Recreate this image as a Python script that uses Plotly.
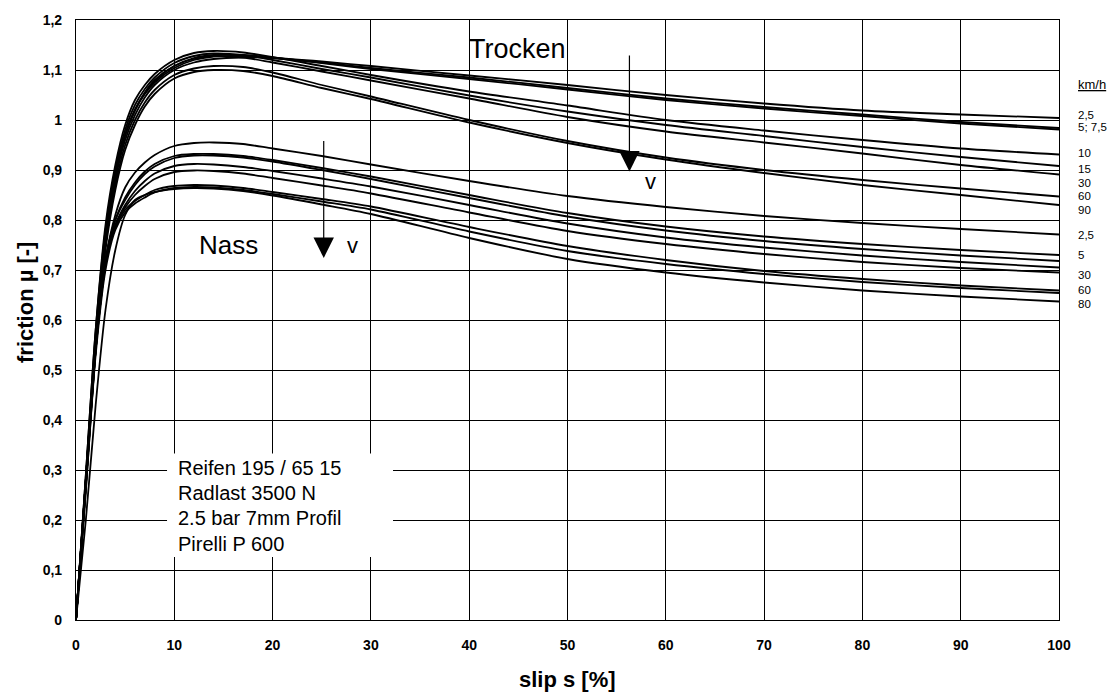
import plotly.graph_objects as go

# ---------------- data ----------------
slip = [0, 1, 2, 3, 4, 5, 6, 7, 8, 10, 12, 14, 17, 20, 25, 30, 40, 50, 60, 70, 80, 90, 100]

dry_names = ["Trocken 2,5", "Trocken 5", "Trocken 7,5", "Trocken 10",
             "Trocken 15", "Trocken 30", "Trocken 60", "Trocken 90"]
dry_2_5 = [0, 0.27, 0.54, 0.75, 0.88, 0.96, 1.01, 1.045, 1.07, 1.10, 1.115, 1.122, 1.125, 1.124, 1.117, 1.108, 1.089, 1.070, 1.050, 1.033, 1.019, 1.011, 1.004]
dry_5 = [0, 0.28, 0.56, 0.77, 0.89, 0.97, 1.02, 1.052, 1.075, 1.104, 1.12, 1.127, 1.128, 1.124, 1.115, 1.104, 1.085, 1.064, 1.043, 1.026, 1.011, 0.996, 0.984]
dry_7_5 = [0, 0.28, 0.56, 0.77, 0.89, 0.97, 1.02, 1.054, 1.078, 1.108, 1.124, 1.13, 1.13, 1.125, 1.114, 1.102, 1.082, 1.061, 1.040, 1.023, 1.008, 0.993, 0.981]
dry_10 = [0, 0.29, 0.58, 0.79, 0.91, 0.99, 1.04, 1.07, 1.092, 1.12, 1.134, 1.138, 1.135, 1.126, 1.108, 1.090, 1.057, 1.029, 1.000, 0.979, 0.960, 0.943, 0.931]
dry_15 = [0, 0.29, 0.58, 0.78, 0.90, 0.98, 1.03, 1.062, 1.085, 1.114, 1.128, 1.133, 1.130, 1.120, 1.102, 1.085, 1.049, 1.017, 0.990, 0.968, 0.946, 0.926, 0.908]
dry_30 = [0, 0.28, 0.57, 0.77, 0.89, 0.97, 1.02, 1.055, 1.08, 1.108, 1.122, 1.128, 1.125, 1.115, 1.097, 1.079, 1.043, 1.006, 0.977, 0.955, 0.933, 0.910, 0.891]
dry_60 = [0, 0.27, 0.55, 0.75, 0.87, 0.95, 1.00, 1.035, 1.06, 1.09, 1.103, 1.108, 1.106, 1.095, 1.070, 1.047, 1.000, 0.958, 0.925, 0.900, 0.880, 0.863, 0.847]
dry_90 = [0, 0.26, 0.54, 0.74, 0.86, 0.94, 0.99, 1.027, 1.052, 1.083, 1.096, 1.10, 1.098, 1.088, 1.064, 1.042, 0.995, 0.954, 0.921, 0.894, 0.870, 0.850, 0.830]

wet_names = ["Nass 2,5", "Nass 5", "Nass (b)", "Nass (c)",
             "Nass 30", "Nass 60", "Nass (d)", "Nass 80"]
wet_1 = [0, 0.28, 0.55, 0.72, 0.81, 0.865, 0.895, 0.915, 0.93, 0.948, 0.954, 0.955, 0.952, 0.943, 0.928, 0.911, 0.878, 0.848, 0.826, 0.808, 0.794, 0.782, 0.771]
wet_2 = [0, 0.28, 0.55, 0.72, 0.80, 0.845, 0.875, 0.897, 0.912, 0.928, 0.932, 0.932, 0.928, 0.920, 0.904, 0.887, 0.850, 0.814, 0.787, 0.767, 0.752, 0.740, 0.730]
wet_3 = [0, 0.28, 0.55, 0.72, 0.80, 0.84, 0.87, 0.892, 0.907, 0.924, 0.929, 0.929, 0.925, 0.917, 0.900, 0.882, 0.844, 0.807, 0.779, 0.758, 0.742, 0.729, 0.718]
wet_4 = [0, 0.27, 0.54, 0.71, 0.79, 0.83, 0.858, 0.878, 0.893, 0.908, 0.912, 0.911, 0.906, 0.898, 0.883, 0.867, 0.830, 0.793, 0.765, 0.745, 0.729, 0.716, 0.705]
wet_5 = [0, 0.27, 0.54, 0.71, 0.79, 0.825, 0.85, 0.868, 0.882, 0.896, 0.899, 0.898, 0.893, 0.884, 0.869, 0.853, 0.815, 0.778, 0.752, 0.732, 0.716, 0.704, 0.695]
wet_6 = [0, 0.27, 0.54, 0.71, 0.785, 0.82, 0.838, 0.85, 0.86, 0.868, 0.870, 0.869, 0.864, 0.856, 0.842, 0.827, 0.786, 0.748, 0.720, 0.698, 0.682, 0.669, 0.659]
wet_7 = [0, 0.26, 0.53, 0.70, 0.78, 0.815, 0.833, 0.845, 0.855, 0.864, 0.866, 0.865, 0.860, 0.852, 0.837, 0.821, 0.777, 0.738, 0.712, 0.692, 0.676, 0.664, 0.654]
wet_8 = [0, 0.20, 0.43, 0.62, 0.74, 0.81, 0.84, 0.85, 0.856, 0.862, 0.864, 0.863, 0.858, 0.849, 0.831, 0.812, 0.764, 0.722, 0.695, 0.675, 0.659, 0.647, 0.637]

x_tickvals = [0, 10, 20, 30, 40, 50, 60, 70, 80, 90, 100]
x_ticktext = ["0", "10", "20", "30", "40", "50", "60", "70", "80", "90", "100"]
y_tickvals = [0, 0.1, 0.2, 0.3, 0.4, 0.5, 0.6, 0.7, 0.8, 0.9, 1.0, 1.1, 1.2]
y_ticktext = ["0", "0,1", "0,2", "0,3", "0,4", "0,5", "0,6", "0,7", "0,8", "0,9", "1", "1,1", "1,2"]

speed_labels = ["2,5", "5; 7,5", "10", "15", "30", "60", "90",
                "2,5", "5", "30", "60", "80"]
speed_label_y = [1.011, 0.986, 0.934, 0.903, 0.875, 0.849, 0.821,
                 0.771, 0.730, 0.690, 0.661, 0.633]

info_lines = ["Reifen 195 / 65 15", "Radlast 3500 N", "2.5 bar 7mm Profil", "Pirelli P 600"]
info_y = [0.305, 0.255, 0.205, 0.153]

# ---------------- figure ----------------
FONT = "Liberation Sans, Arial, sans-serif"
fig = go.Figure()

dry_series = [dry_2_5, dry_5, dry_7_5, dry_10, dry_15, dry_30, dry_60, dry_90]
wet_series = [wet_1, wet_2, wet_3, wet_4, wet_5, wet_6, wet_7, wet_8]

for name, ys in zip(dry_names + wet_names, dry_series + wet_series):
    fig.add_trace(go.Scatter(
        x=slip, y=ys, mode="lines", name=name, showlegend=False,
        line=dict(color="black", width=1.8, shape="spline", smoothing=0.8),
    ))

# white box behind the tyre description (covers grid)
fig.add_shape(type="rect", xref="x", yref="y", x0=9.26, x1=32.25, y0=0.126, y1=0.333,
              fillcolor="white", line=dict(width=0), layer="between")

annotations = []
for txt, yy in zip(info_lines, info_y):
    annotations.append(dict(x=10.2, y=yy, xref="x", yref="y", text=txt, showarrow=False,
                            xanchor="left", yanchor="middle",
                            font=dict(family=FONT, size=20, color="black")))

annotations.append(dict(x=44.9, y=1.143, xref="x", yref="y", text="Trocken", showarrow=False,
                        font=dict(family=FONT, size=27, color="black")))
annotations.append(dict(x=15.5, y=0.751, xref="x", yref="y", text="Nass", showarrow=False,
                        font=dict(family=FONT, size=26, color="black")))
annotations.append(dict(x=58.4, y=0.877, xref="x", yref="y", text="v", showarrow=False,
                        font=dict(family=FONT, size=22, color="black")))
annotations.append(dict(x=28.1, y=0.749, xref="x", yref="y", text="v", showarrow=False,
                        font=dict(family=FONT, size=22, color="black")))

# arrows
for xa, ytop, ytip in [(56.3, 1.132, 0.897), (25.2, 0.961, 0.724)]:
    annotations.append(dict(x=xa, y=ytip, ax=xa, ay=ytop, xref="x", yref="y",
                            axref="x", ayref="y", text="", showarrow=True,
                            arrowhead=2, arrowsize=3.4, arrowwidth=1.2,
                            arrowcolor="black", standoff=0))

# speed labels at right
annotations.append(dict(x=1.017, y=1.072, xref="paper", yref="y", text="<u>km/h</u>",
                        showarrow=False, xanchor="left", yanchor="middle",
                        font=dict(family=FONT, size=13, color="black")))
for txt, yy in zip(speed_labels, speed_label_y):
    annotations.append(dict(x=1.017, y=yy, xref="paper", yref="y", text=txt,
                            showarrow=False, xanchor="left", yanchor="middle",
                            font=dict(family=FONT, size=11.5, color="black")))

# axis titles
annotations.append(dict(x=0.5, y=-0.0997, xref="paper", yref="paper", text="<b>slip s [%]</b>",
                        showarrow=False, xanchor="center", yanchor="middle",
                        font=dict(family=FONT, size=22, color="black")))
annotations.append(dict(x=-0.0519, y=0.53, xref="paper", yref="paper", text="<b>friction µ [-]</b>",
                        showarrow=False, textangle=-90, xanchor="center", yanchor="middle",
                        font=dict(family=FONT, size=22, color="black")))

fig.update_layout(
    width=1120, height=693,
    margin=dict(l=76, r=61, t=18, b=73),
    paper_bgcolor="white", plot_bgcolor="white",
    annotations=annotations,
    font=dict(family=FONT, color="black"),
)
fig.update_xaxes(range=[0, 100], tickvals=x_tickvals, ticktext=x_ticktext,
                 showgrid=True, gridcolor="black", gridwidth=1,
                 showline=True, linecolor="black", linewidth=1.2, mirror=True,
                 zeroline=False, ticks="", ticklabelstandoff=12,
                 tickfont=dict(family=FONT, size=14, color="black", weight="bold"))
fig.update_yaxes(range=[0, 1.2], tickvals=y_tickvals, ticktext=y_ticktext,
                 showgrid=True, gridcolor="black", gridwidth=1,
                 showline=True, linecolor="black", linewidth=1.2, mirror=True,
                 zeroline=False, ticks="", ticklabelstandoff=10,
                 tickfont=dict(family=FONT, size=14, color="black", weight="bold"))

fig.write_html("out.html", config={"displayModeBar": False},
               post_script="document.body.style.margin='0';document.body.style.padding='0';")
